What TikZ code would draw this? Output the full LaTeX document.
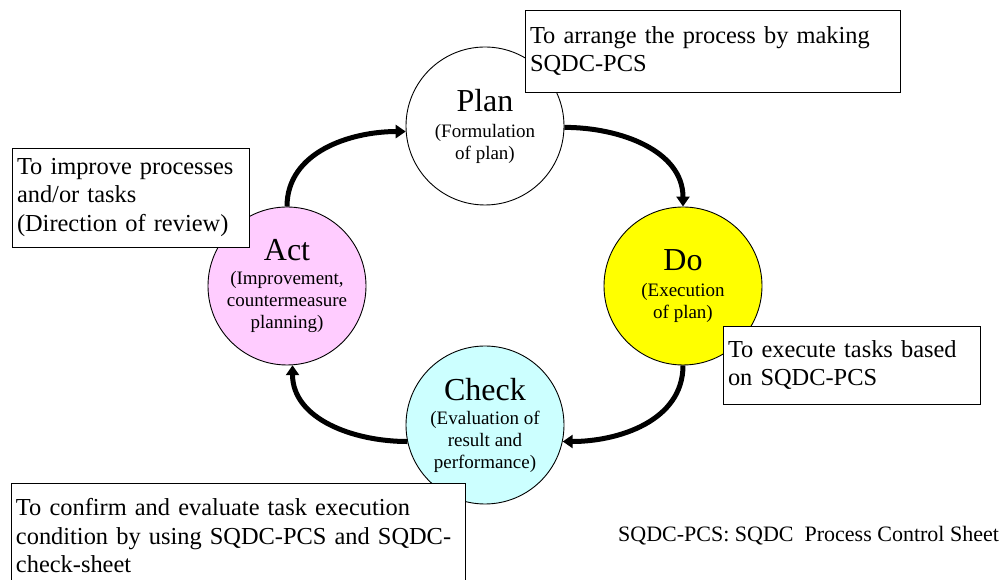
\documentclass[tikz,border=0pt]{standalone}
\usepackage{fontspec}
\setmainfont{Liberation Serif}
\usetikzlibrary{arrows.meta}

\definecolor{doyellow}{RGB}{255,255,0}
\definecolor{checkcyan}{RGB}{204,255,255}
\definecolor{actpink}{RGB}{255,204,255}

\begin{document}
\begin{tikzpicture}[x=1pt,y=1pt]
	\tikzstyle{phase}=[circle, draw, line width=0.9pt, minimum size=158pt, inner sep=0pt, align=center, font=\fontsize{19}{22}\selectfont]
	\tikzstyle{note}=[rectangle, draw, line width=0.9pt, fill=white, inner xsep=5pt, inner ysep=0pt, align=left, font=\fontsize{24.4}{28.5}\selectfont]
	\tikzstyle{cyclearrow}=[line width=5pt, -{Triangle[length=10pt,width=13pt]}]
	\clip (0,0) rectangle (1007,580);
	% the four phases
	\node[phase] (plan) at (485,454) {{\fontsize{32}{36}\selectfont Plan}\\[4pt] (Formulation\\ of plan)};
	\node[phase, fill=doyellow] (do) at (683,294) {{\fontsize{32}{36}\selectfont Do}\\[4pt] (Execution\\ of plan)};
	\node[phase, fill=checkcyan] (check) at (485,155) {{\fontsize{32}{36}\selectfont Check}\\[2pt] (Evaluation of\\ result and\\ performance)};
	\node[phase, fill=actpink] (act) at (287,294) {{\fontsize{32}{36}\selectfont Act}\\[2pt] (Improvement,\\ countermeasure\\ planning)};
	% the cycle
	\draw[cyclearrow] (act.north) to[out=90,in=180] (plan.184);
	\draw[cyclearrow] (plan.-1) to[out=0,in=90] (do.north);
	\draw[cyclearrow] (do.south) to[out=-90,in=0] (check.-12);
	\draw[cyclearrow] (check.192) to[out=180,in=-90] (act.-86);
	% notes
	\node[note, text width=365pt, minimum height=82pt] (plannote) at (712.5,529) {To arrange the process by making\\SQDC-PCS};
	\node[note, text width=247pt, minimum height=78pt] (donote) at (851.5,215) {To execute tasks based\\on SQDC-PCS};
	\node[note, text width=227pt, minimum height=99pt] (actnote) at (130.5,382.5) {To improve processes\\and/or tasks\\(Direction of review)};
	\node[note, text width=444pt, minimum height=106pt] (checknote) at (238,44) {To confirm and evaluate task execution\\\mbox{condition by using SQDC-PCS and SQDC-}\\check-sheet};
	\node[anchor=base west, inner sep=0pt, font=\fontsize{22}{26}\selectfont] (legend) at (618,38) {SQDC-PCS: SQDC\ \ Process Control Sheet};
\end{tikzpicture}
\end{document}
